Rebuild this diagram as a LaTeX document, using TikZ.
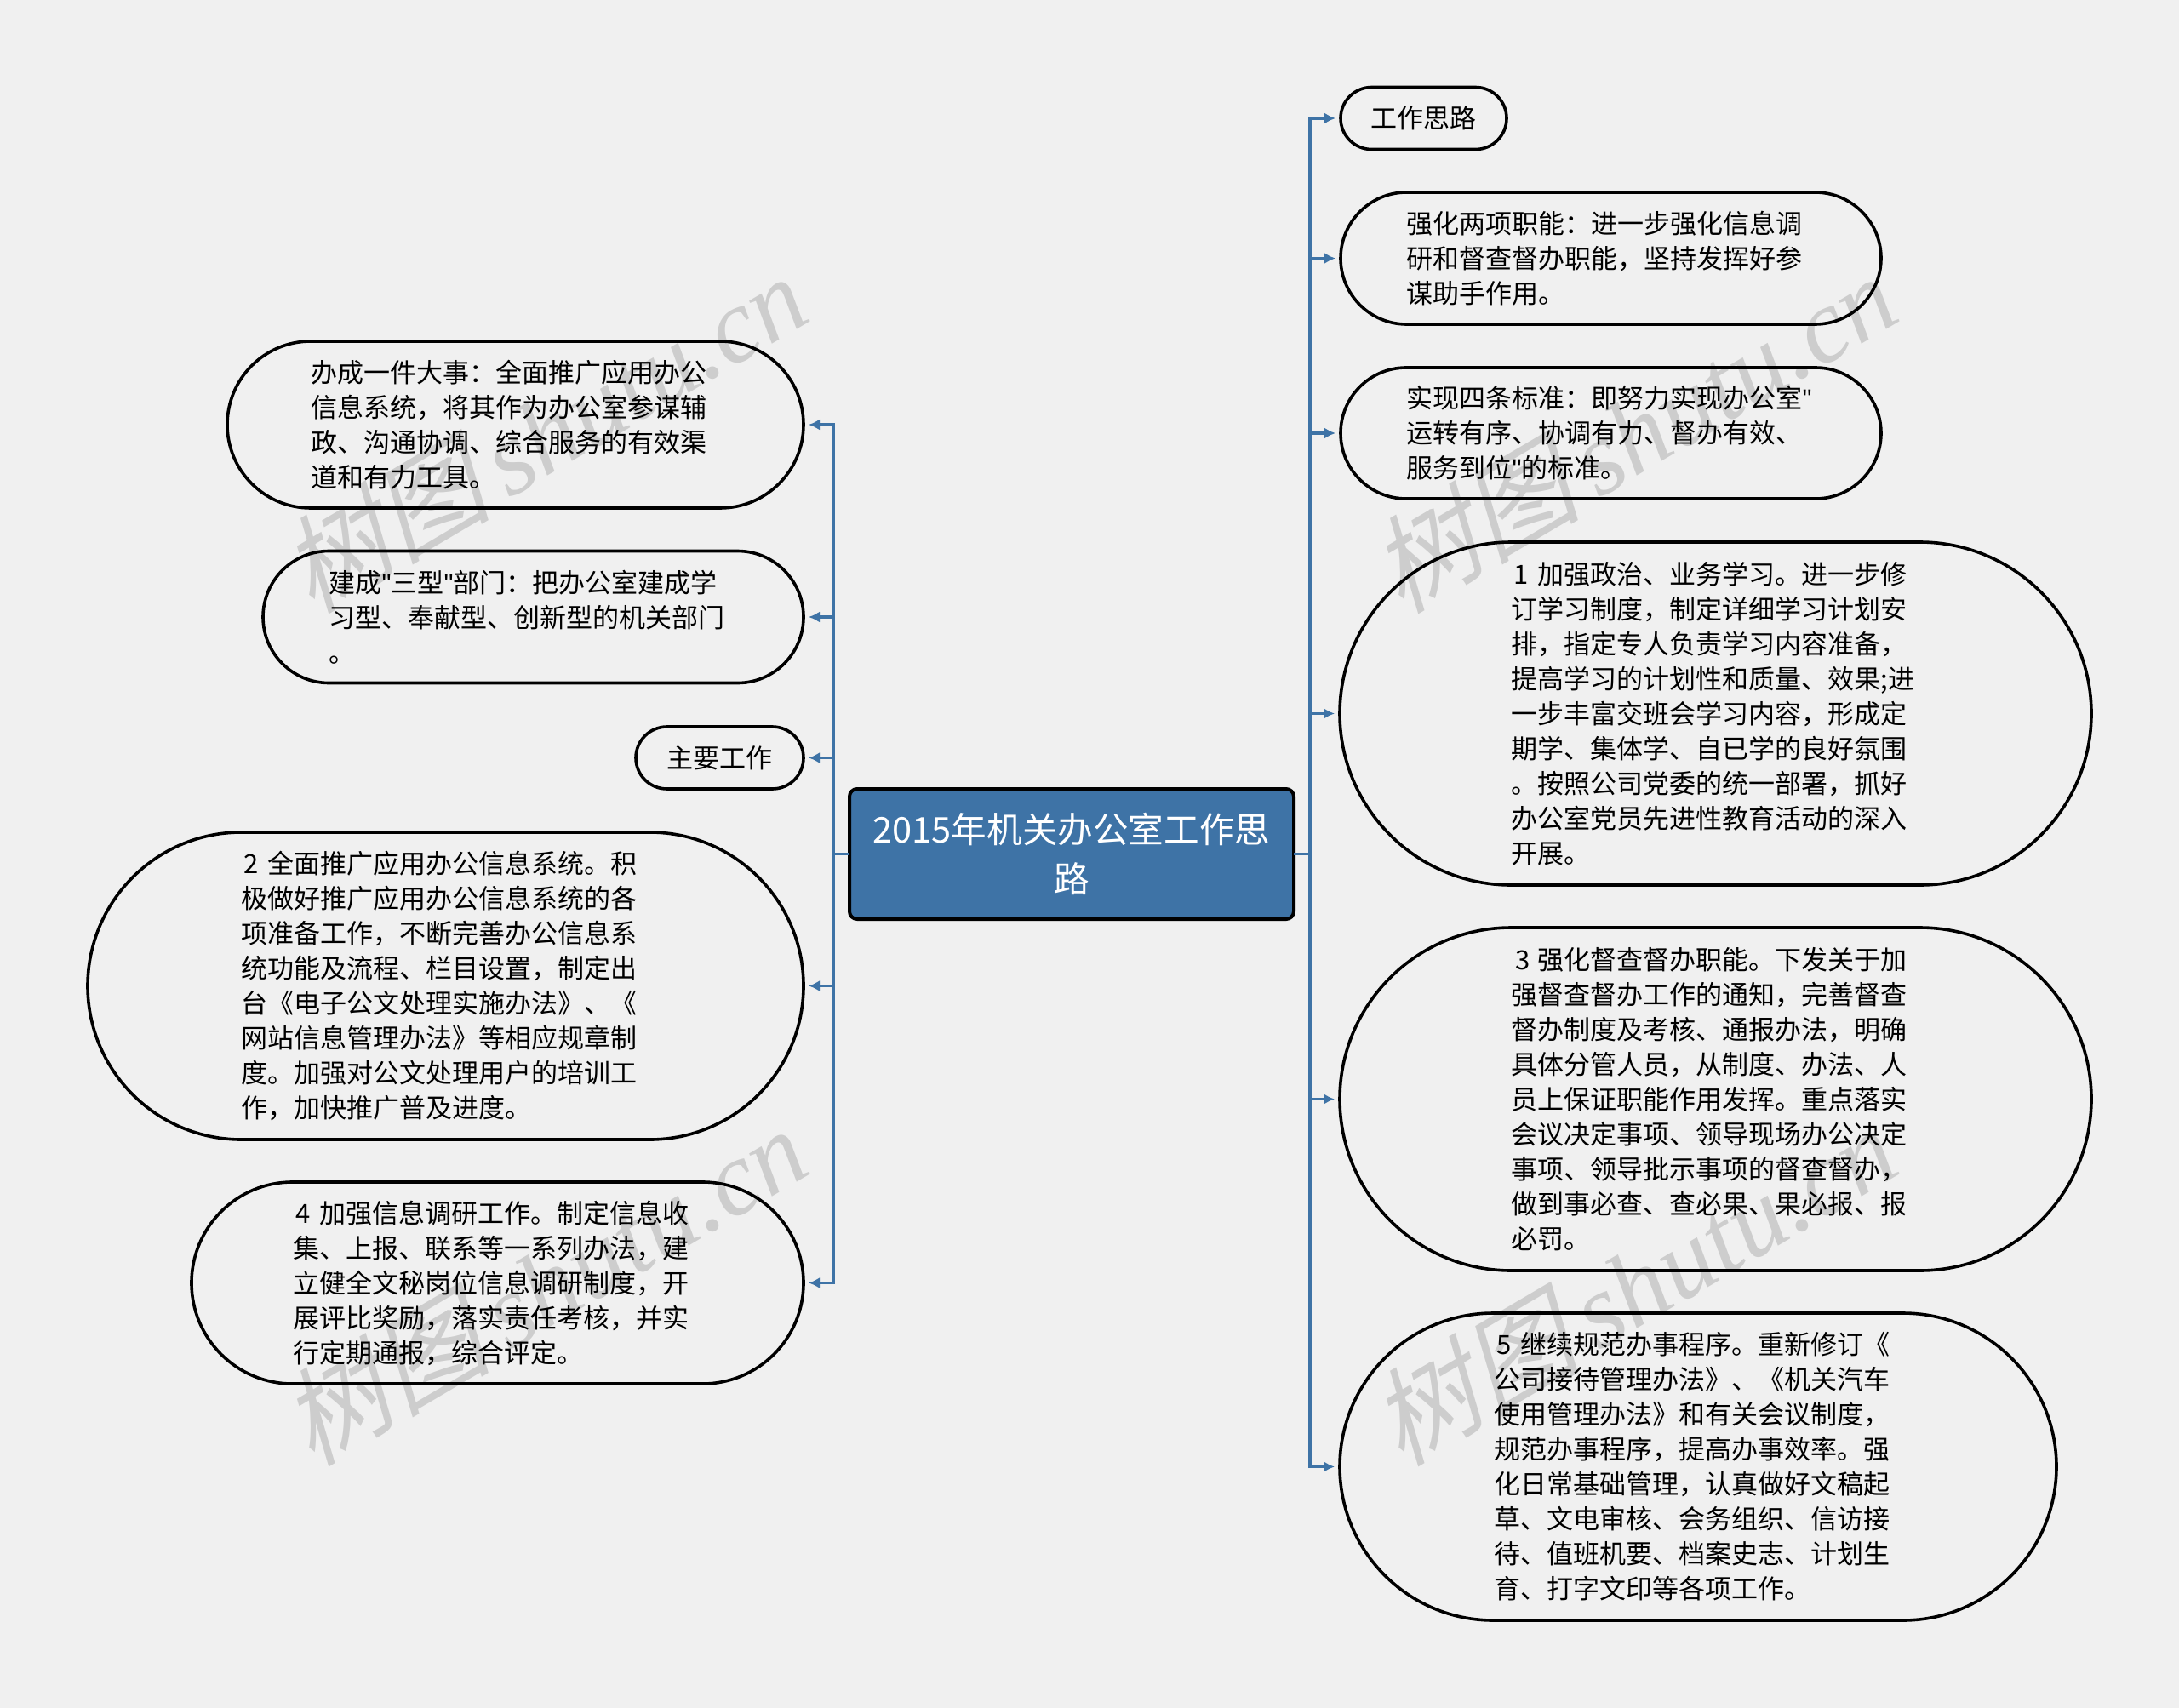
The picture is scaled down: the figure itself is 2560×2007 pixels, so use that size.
\documentclass[tikz,border=0pt]{standalone}
\usepackage{fontspec}
\usetikzlibrary{arrows.meta}
\setmainfont{Noto Sans CJK SC}
\newfontfamily\wmcjk[FakeSlant=0.25]{Noto Sans CJK SC}
\newfontfamily\wmlat{Liberation Serif}[ItalicFont=* Italic]
\newfontfamily\quotefont{Liberation Sans}
\definecolor{pagebg}{HTML}{F0F0F0}
\definecolor{brand}{HTML}{3E73A6}
\definecolor{wmgrey}{HTML}{CDCDCD}
\newcommand{\dg}[1]{\makebox[1em][l]{\kern1.5pt #1}}
\newcommand{\qt}{{\quotefont\symbol{34}}}
\newcommand{\dou}{\symbol{"FF0C}}
\newcommand{\mao}{\symbol{"FF1A}}
\newcommand{\wmtext}{{\wmcjk 树图}\,{\wmlat\itshape shutu.cn}}
\tikzset{
  x=0.5pt,y=-0.5pt,
  box/.style={draw=black,line width=1.8pt,outer sep=0pt,inner ysep=0pt,text=black,
    font=\fontsize{15.5}{20.5}\selectfont,minimum height={#1*0.5pt},rounded corners={#1*0.25pt}},
  leaf/.style 2 args={box=#1,align=left,text width=240pt,inner xsep={(#2-480)*0.25pt}},
  tag/.style 2 args={box=#1,align=center,inner xsep=0pt,minimum width={#2*0.5pt}},
  root/.style={draw=black,line width=2pt,fill=brand,text=white,outer sep=0pt,inner sep=0pt,
    rounded corners=4.5pt,align=center,minimum width=261pt,minimum height=76.5pt,
    font=\fontsize{20.8}{29}\selectfont},
  conn/.style={draw=brand,line width=1.8pt,shorten >=3pt,-{Latex[length=6.5pt,width=6.5pt]}},
  wm/.style={text=wmgrey,rotate=30.5,font=\fontsize{62}{64}\selectfont,inner sep=0pt}
}
\begin{document}
\begin{tikzpicture}
\path[fill=pagebg,use as bounding box] (0,0) rectangle (2560,2007);
% watermarks
\node[wm] (w1) at (638,508) {\wmtext};
\node[wm] (w2) at (1918,508) {\wmtext};
\node[wm] (w3) at (638,1510) {\wmtext};
\node[wm] (w4) at (1918,1510) {\wmtext};
% root
\node[root] (c) at (1259,1003.5) {2015年机关办公室工作思\\路};
% right side
\node[tag={73}{195}] (n1) at (1672.5,139) {工作思路};
\node[leaf={155}{635}] (n2) at (1892.5,303.5) {强化两项职能\mao{}进一步强化信息调\\研和督查督办职能\dou{}坚持发挥好参\\谋助手作用。};
\node[leaf={154}{635}] (n3) at (1892.5,509) {实现四条标准\mao{}即努力实现办公室\qt\\运转有序、协调有力、督办有效、\\服务到位\qt 的标准。};
\node[leaf={403}{883}] (n4) at (2015.5,838.5) {\dg{1}加强政治、业务学习。进一步修\\订学习制度\dou{}制定详细学习计划安\\排\dou{}指定专人负责学习内容准备\dou\\提高学习的计划性和质量、效果;进\\一步丰富交班会学习内容\dou{}形成定\\期学、集体学、自已学的良好氛围\\。按照公司党委的统一部署\dou{}抓好\\办公室党员先进性教育活动的深入\\开展。};
\node[leaf={403}{883}] (n5) at (2015.5,1291.5) {\dg{\kern1pt 3}强化督查督办职能。下发关于加\\强督查督办工作的通知\dou{}完善督查\\督办制度及考核、通报办法\dou{}明确\\具体分管人员\dou{}从制度、办法、人\\员上保证职能作用发挥。重点落实\\会议决定事项、领导现场办公决定\\事项、领导批示事项的督查督办\dou\\做到事必查、查必果、果必报、报\\必罚。};
\node[leaf={361}{842}] (n6) at (1995,1723.5) {\dg{5}继续规范办事程序。重新修订《\\公司接待管理办法》、《机关汽车\\使用管理办法》和有关会议制度\dou\\规范办事程序\dou{}提高办事效率。强\\化日常基础管理\dou{}认真做好文稿起\\草、文电审核、会务组织、信访接\\待、值班机要、档案史志、计划生\\育、打字文印等各项工作。};
% left side
\node[leaf={196}{677}] (l1) at (605.5,499) {办成一件大事\mao{}全面推广应用办公\\信息系统\dou{}将其作为办公室参谋辅\\政、沟通协调、综合服务的有效渠\\道和有力工具。};
\node[leaf={155}{635}] (l2) at (626.5,725) {建成\qt 三型\qt 部门\mao{}把办公室建成学\\习型、奉献型、创新型的机关部门\\。};
\node[tag={73}{197}] (l3) at (845.5,890.5) {主要工作};
\node[leaf={361}{841}] (l4) at (523.5,1158.5) {\dg{2}全面推广应用办公信息系统。积\\极做好推广应用办公信息系统的各\\项准备工作\dou{}不断完善办公信息系\\统功能及流程、栏目设置\dou{}制定出\\台《电子公文处理实施办法》、《\\网站信息管理办法》等相应规章制\\度。加强对公文处理用户的培训工\\作\dou{}加快推广普及进度。};
\node[leaf={237}{719}] (l5) at (584.5,1507.5) {\dg{4}加强信息调研工作。制定信息收\\集、上报、联系等一系列办法\dou{}建\\立健全文秘岗位信息调研制度\dou{}开\\展评比奖励\dou{}落实责任考核\dou{}并实\\行定期通报\dou{}综合评定。};
% trunks
\coordinate (rt) at (1539,1003.5);
\coordinate (lt) at (979,1003.5);
\foreach \t in {n1,n2,n3,n4,n5,n6}
  \draw[conn] (c.east) -- (rt) |- (\t.west);
\foreach \t in {l1,l2,l3,l4,l5}
  \draw[conn] (c.west) -- (lt) |- (\t.east);
\end{tikzpicture}
\end{document}
